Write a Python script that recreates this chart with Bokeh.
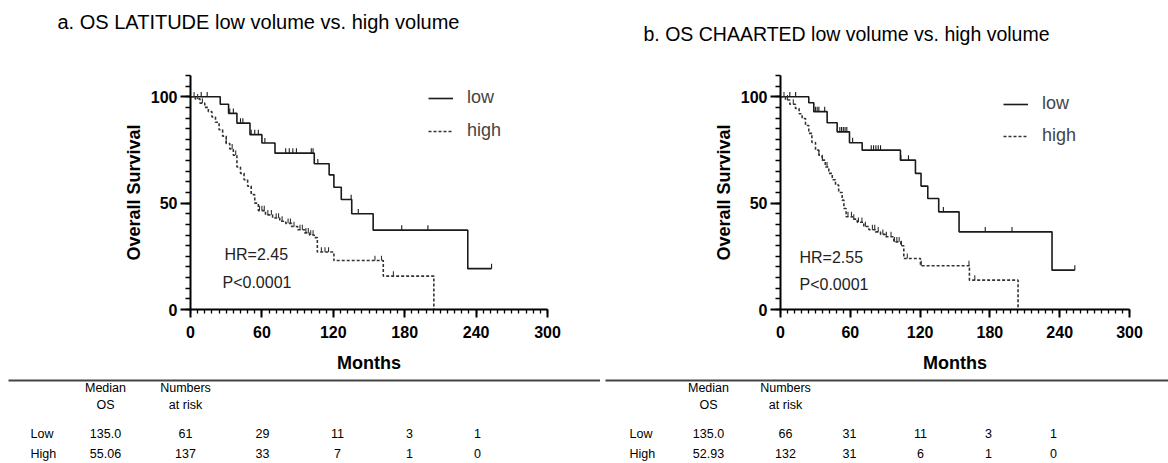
import numpy as np
from bokeh.plotting import figure
from bokeh.models import Range1d, FixedTicker, Label, Legend, LegendItem
from bokeh.layouts import column, row
from bokeh.embed import file_html
from bokeh.resources import INLINE
from bokeh.core.properties import value

FONT = "Liberation Sans"

# ---------------- data ----------------
titles = ["a. OS LATITUDE low volume vs. high volume",
          "b. OS CHAARTED low volume vs. high volume"]
hr_text = ["HR=2.45", "HR=2.55"]
p_text = ["P<0.0001", "P<0.0001"]
series_names = ["low", "high"]

# LATITUDE low volume (months, survival %)
a_low_t = [0, 25, 32, 39, 50, 60, 71, 104, 116.5, 120.5, 126.7, 135.5, 153.5, 233, 253]
a_low_s = [100, 96.5, 92.2, 87.6, 82.2, 78.3, 73.5, 68.5, 63.3, 57.5, 51.7, 45, 37.3, 19.2, 19.2]
a_low_cens = [9, 14, 33, 36, 42, 44, 51, 54, 57, 62.5, 80, 83, 86, 89, 101.5, 103, 107, 135, 141, 177.5, 199.5, 253]

# LATITUDE high volume
a_high_t = [0, 4, 8, 12, 15, 18, 21, 24, 27, 30, 33, 36, 39, 42, 45, 48, 51, 54, 57,
            63, 69, 75, 80, 85, 90, 96, 100, 104, 106.6, 120.5, 162, 204.5]
a_high_s = [100, 99, 97, 95, 93, 90.5, 88, 84.5, 81.5, 78, 75.5, 72.5, 67, 64, 61, 58, 54, 50, 46.5,
            44.5, 43, 41.5, 40.5, 39, 37.5, 36, 35, 33.8, 27, 23, 15.7, 0]
a_high_cens = [3, 6, 10, 30, 35, 38, 58, 60, 62, 65, 68, 72, 74, 77, 82, 84, 87, 92, 94, 97,
               99, 101, 103, 110, 113, 116, 155, 160.5, 170.5]

# CHAARTED low volume
b_low_t = [0, 24.3, 28.6, 40.1, 48.7, 59.3, 70.2, 103.1, 116, 120.8, 126.6, 136, 153.5, 233.4, 253]
b_low_s = [100, 97.2, 93, 87.8, 83.5, 78.4, 74.9, 70.2, 64, 58, 52.2, 45.9, 36.5, 18.5, 18.5]
b_low_cens = [8, 13, 30, 31.5, 33, 38, 51, 52.5, 54, 55.5, 57, 62, 78, 80, 82, 84, 86, 103.5,
              110, 140, 176, 199, 253]

# CHAARTED high volume
b_high_t = [0, 4.3, 8, 12.9, 16, 18.6, 21.5, 24.3, 27, 30.1, 33, 35.8, 38.5, 41.5, 44.5, 47.3,
            50, 53, 54.5, 56.4, 62, 66, 71.6, 76, 81.6, 86, 90.2, 97.4, 103.4, 106, 120.3, 162.4, 204.2]
b_high_s = [100, 98.5, 96.5, 94.5, 92, 89.8, 86.5, 82.8, 78.5, 74.9, 72.5, 70.2, 67, 64, 61, 58.5,
            55, 51.4, 47.5, 43.6, 42.5, 41, 39, 37.5, 36.5, 35.3, 34.2, 31.8, 30, 24, 20.6, 13.8, 0]
b_high_cens = [3, 6, 11, 33, 36, 40, 58, 61, 63, 67, 70, 73, 79, 81, 84, 88, 91, 95, 98, 100,
               102, 104, 109, 121, 162, 167]

x_major = [0, 60, 120, 180, 240, 300]
y_major = [0, 50, 100]

# numbers-at-risk tables
table_header_1 = ["Median", "Numbers"]
table_header_2 = ["OS", "at risk"]
row_labels = ["Low", "High"]
a_median = ["135.0", "55.06"]
b_median = ["135.0", "52.93"]
a_low_risk = [61, 29, 11, 3, 1]
a_high_risk = [137, 33, 7, 1, 0]
b_low_risk = [66, 31, 11, 3, 1]
b_high_risk = [132, 31, 6, 1, 0]


def surv_at(times, surv, t):
    times = np.asarray(times, float)
    surv = np.asarray(surv, float)
    idx = np.searchsorted(times, np.asarray(t, float), side="right") - 1
    return surv[idx]


def blank_fig(width, height):
    f = figure(width=width, height=height, output_backend="svg", toolbar_location=None,
               x_range=Range1d(0, width), y_range=Range1d(height, 0), min_border=0)
    f.axis.visible = False
    f.grid.visible = False
    f.outline_line_color = None
    return f


def title_fig(width, height, text, x, y, size):
    f = blank_fig(width, height)
    f.text(x=[x], y=[y], text=[text], text_font=value(FONT), text_font_size=size,
           text_align="left", text_baseline="middle", text_color="black")
    return f


def km_fig(width, height, mb_left, mb_right, mb_top, mb_bottom, curves, hr, pv,
           hr_xy, p_xy, legend_xy, legend_spacing):
    p = figure(width=width, height=height, output_backend="svg", toolbar_location=None,
               x_range=Range1d(0, 300), y_range=Range1d(0, 110),
               min_border_left=mb_left, min_border_right=mb_right,
               min_border_top=mb_top, min_border_bottom=mb_bottom)
    p.outline_line_color = None
    p.grid.visible = False

    items = []
    for (t, s, cens, dash, col), name in zip(curves, series_names):
        r = p.step(x=t, y=s, mode="after", line_color=col, line_width=1.6, line_dash=dash)
        cy = surv_at(t, s, cens)
        p.segment(x0=cens, y0=cy, x1=cens, y1=cy + 2.3, line_color=col, line_width=1.1)
        items.append(LegendItem(label=name, renderers=[r]))

    leg = Legend(items=items, location=legend_xy, border_line_color=None,
                 background_fill_alpha=0, label_text_font=FONT, label_text_font_size="18px",
                 glyph_width=25, glyph_height=20, label_standoff=14, spacing=legend_spacing,
                 padding=0, margin=0, label_height=20)
    p.add_layout(leg, "center")

    for ax in (p.xaxis[0], p.yaxis[0]):
        ax.axis_line_width = 2
        ax.axis_line_color = "black"
        ax.major_tick_line_width = 2
        ax.minor_tick_line_width = 1.3
        ax.major_tick_line_color = "black"
        ax.minor_tick_line_color = "black"
        ax.major_tick_in = 0
        ax.minor_tick_in = 0
        ax.major_label_text_font = FONT
        ax.major_label_text_font_style = "bold"
        ax.major_label_text_font_size = "16px"
        ax.major_label_text_color = "black"
        ax.axis_label_text_font = FONT
        ax.axis_label_text_font_style = "bold"
        ax.axis_label_text_font_size = "18px"
        ax.axis_label_text_color = "black"

    p.xaxis.ticker = FixedTicker(ticks=x_major, minor_ticks=list(range(0, 301, 6)))
    p.yaxis.ticker = FixedTicker(ticks=y_major, minor_ticks=list(range(0, 111, 5)))
    p.xaxis.major_tick_out = 8
    p.xaxis.minor_tick_out = 4
    p.yaxis.major_tick_out = 10
    p.yaxis.minor_tick_out = 5
    p.xaxis.major_label_standoff = 8
    p.yaxis.major_label_standoff = 3
    p.xaxis.axis_label = "Months"
    p.yaxis.axis_label = "Overall Survival"
    p.xaxis.axis_label_standoff = 12
    p.yaxis.axis_label_standoff = 4

    p.add_layout(Label(x=hr_xy[0], y=hr_xy[1], x_units="screen", y_units="screen",
                       text=hr, text_font=FONT, text_font_size="16px",
                       text_baseline="middle", text_color="#222"))
    p.add_layout(Label(x=p_xy[0], y=p_xy[1], x_units="screen", y_units="screen",
                       text=pv, text_font=FONT, text_font_size="16px",
                       text_baseline="middle", text_color="#222"))
    return p


def table_fig(width, height, median, low_risk, high_risk, col_x, line_x0):
    t = blank_fig(width, height)
    t.segment(x0=[line_x0], y0=[5], x1=[width], y1=[5], line_color="#444", line_width=2)
    fs = "12.5px"
    kw = dict(text_font=value(FONT), text_font_size=fs, text_align="center",
              text_baseline="middle", text_color="black")
    t.text(x=col_x[1:3], y=[12, 12], text=table_header_1, **kw)
    t.text(x=col_x[1:3], y=[29, 29], text=table_header_2, **kw)
    t.text(x=[col_x[0], col_x[0]], y=[58, 78], text=row_labels,
           text_font=value(FONT), text_font_size=fs, text_align="left",
           text_baseline="middle", text_color="black")
    t.text(x=[col_x[1], col_x[1]], y=[58, 78], text=median, **kw)
    t.text(x=col_x[2:], y=[58] * len(low_risk), text=[str(v) for v in low_risk], **kw)
    t.text(x=col_x[2:], y=[78] * len(high_risk), text=[str(v) for v in high_risk], **kw)
    return t


curves_a = [(a_low_t, a_low_s, a_low_cens, "solid", "#1a1a1a"),
            (a_high_t, a_high_s, a_high_cens, "3 2", "#333333")]
curves_b = [(b_low_t, b_low_s, b_low_cens, "solid", "#1a1a1a"),
            (b_high_t, b_high_s, b_high_cens, "3 2", "#333333")]

TH = 45
hta = title_fig(600, TH, titles[0], 57, 21, "20px")
htb = title_fig(568, TH, titles[1], 43, 33, "19.5px")

pa = km_fig(600, 375 - TH, 190, 53, 71 - TH, 65, curves_a, hr_text[0], p_text[0],
            hr_xy=(34, 55), p_xy=(32, 27), legend_xy=(238, 168), legend_spacing=12)
pb = km_fig(568, 375 - TH, 180, 39, 75 - TH, 66, curves_b, hr_text[1], p_text[1],
            hr_xy=(19, 52), p_xy=(19, 25), legend_xy=(223, 163), legend_spacing=11)

ta = table_fig(600, 88, a_median, a_low_risk, a_high_risk,
               [30, 105, 185, 262, 337, 409, 477], 8)
tb = table_fig(568, 88, b_median, b_low_risk, b_high_risk,
               [29, 108, 185, 249, 320, 388, 453], 5)

layout = column(row(hta, htb, spacing=0), row(pa, pb, spacing=0),
                row(ta, tb, spacing=0), spacing=0)
open("out.html", "w").write(file_html(layout, INLINE))
